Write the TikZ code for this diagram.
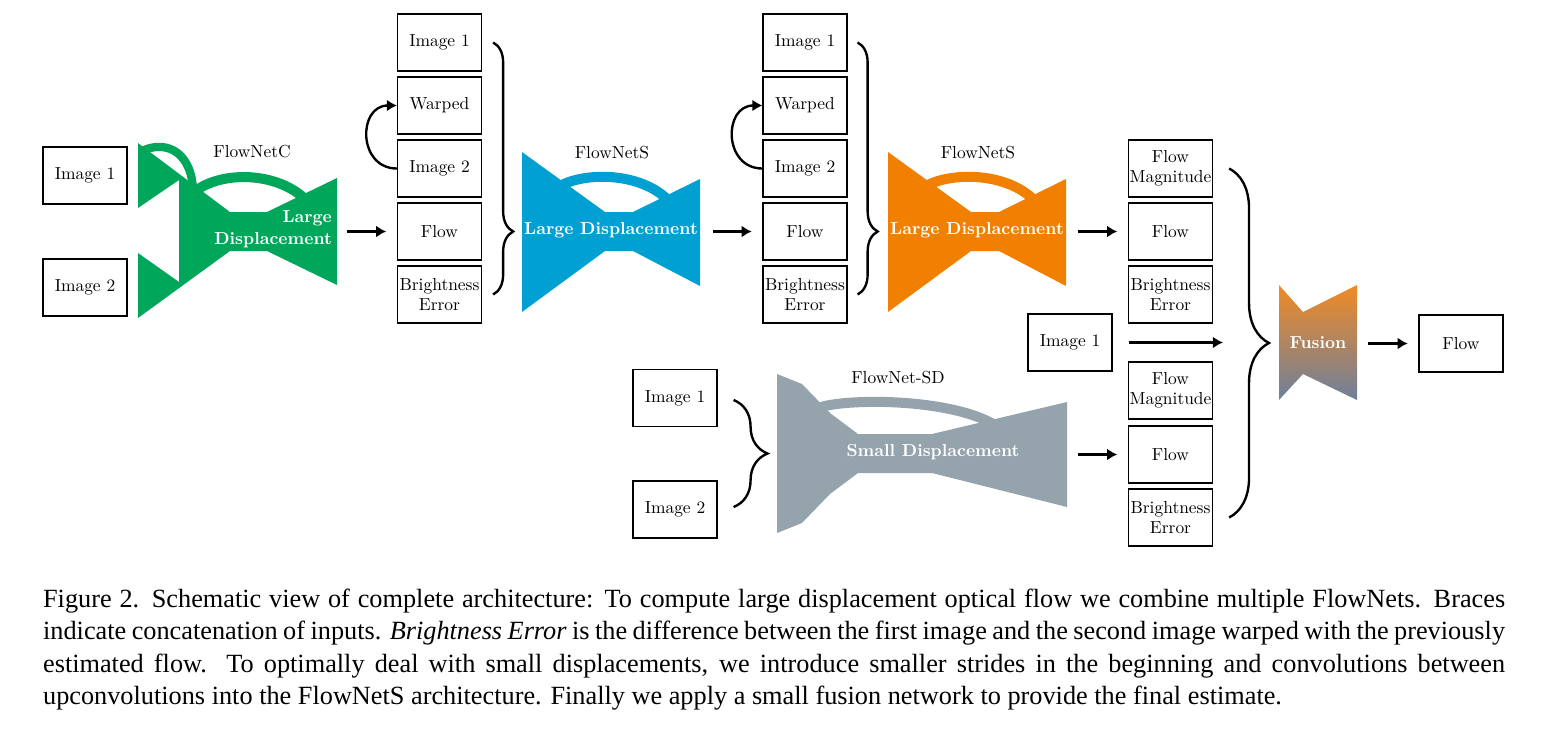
\documentclass[tikz,border=0pt]{standalone}
\usepackage{fontspec}
\usepackage{tikz}
\usetikzlibrary{arrows.meta,calc,decorations.pathreplacing}
\newfontfamily\capfont{Liberation Serif}
\newfontfamily\diafont{lmroman10}[Extension=.otf, UprightFont=*-regular, BoldFont=*-bold, ItalicFont=*-italic]
\definecolor{netC}{RGB}{0,166,90}
\definecolor{netS}{RGB}{0,161,210}
\definecolor{netO}{RGB}{241,128,0}
\definecolor{netSD}{RGB}{148,163,172}
\definecolor{fuseTop}{RGB}{240,138,38}
\definecolor{fuseBot}{RGB}{110,128,155}
\tikzset{every picture/.style={line width=0.75pt}}
\tikzset{
  box/.style={draw, line width=0.45pt, minimum width=28.4pt, minimum height=19.3pt, inner sep=0pt, align=center, font=\diafont\fontsize{5.9}{6.8}\selectfont},
  netlabel/.style={inner sep=0pt, font=\diafont\fontsize{5.9}{7}\selectfont},
  netname/.style={inner sep=0pt, text=white, align=center, font=\diafont\fontsize{5.9}{7.4}\selectfont\bfseries},
  tip/.style={line width=0.8pt, -{Latex[length=3.4pt,width=4pt]}},
  arr/.style={tip, shorten >=3.6pt},
  skip/.style={line width=3.4pt},
  bracket/.style={line width=0.8pt, decorate},
}

\begin{document}
\begin{tikzpicture}[x=0.3386pt,y=0.3386pt,yscale=-1,xscale=1]
\useasboundingbox (0,0) rectangle (1546,730);

%Shape: FlowNetC
\fill[netC] (138,143) -- (230,212) -- (267,212) -- (337,178) -- (337,285) -- (267,251) -- (230,251) -- (138,318) -- (138,253) -- (179,282) -- (179,180) -- (138,208) -- cycle ;
\draw[netC, line width=2.8pt] (140,152) .. controls (162,140) and (190,148) .. (193,188) ;
\draw[netC, skip] (194,192) .. controls (222,170) and (278,172) .. (306,200) ;
%Shape: FlowNetS (blue)
\fill[netS] (522,152) -- (605,212) -- (633,212) -- (700,179) -- (700,286) -- (633,251) -- (605,251) -- (522,312) -- cycle ;
\draw[netS, skip] (560,186) .. controls (585,172) and (640,172) .. (668,200) ;
%Shape: FlowNetS (orange)
\fill[netO] (888,152) -- (971,212) -- (999,212) -- (1066,179) -- (1066,286) -- (999,251) -- (971,251) -- (888,312) -- cycle ;
\draw[netO, skip] (926,186) .. controls (951,172) and (1006,172) .. (1034,200) ;
%Shape: FlowNet-SD
\fill[netSD] (777,374) -- (802,384) -- (830,413) -- (858,434) -- (932,434) -- (1067,402) -- (1067,507) -- (932,473) -- (858,473) -- (830,494) -- (802,523) -- (777,533) -- cycle ;
\draw[netSD, skip] (818,408) .. controls (845,398) and (950,398) .. (995,425) ;
%Shape: Fusion
\shade[top color=fuseTop, bottom color=fuseBot] (1279,285) -- (1303,312) -- (1357,285) -- (1357,400) -- (1303,374) -- (1279,400) -- cycle ;

% Network texts
\node[netlabel] (cname) at (252,152) {FlowNetC};
\node[netname, align=right, anchor=east] (ctext) at (333,229) {Large\\Displacement};
\node[netlabel] (sname) at (612,153) {FlowNetS};
\node[netname] (stext) at (611,230) {Large Displacement};
\node[netlabel] (oname) at (978,153) {FlowNetS};
\node[netname] (otext) at (977,230) {Large Displacement};
\node[netlabel] (sdname) at (898,378) {FlowNet-SD};
\node[netname] (sdtext) at (933,452) {Small Displacement};
\node[netname] (ftext) at (1318,343) {Fusion};

% Inputs
\node[box] (in1) at (85,175.5) {Image 1};
\node[box] (in2) at (85,287.5) {Image 2};
\node[box] (in3) at (675,398) {Image 1};
\node[box] (in4) at (675,509.5) {Image 2};
% Stack after FlowNetC
\node[box] (s1img1) at (439.5,42.5) {Image 1};
\node[box] (s1warp) at (439.5,105.5) {Warped};
\node[box] (s1img2) at (439.5,168.5) {Image 2};
\node[box] (s1flow) at (439.5,231.5) {Flow};
\node[box] (s1be) at (439.5,294.5) {Brightness\\Error};
% Stack after first FlowNetS
\node[box] (s2img1) at (805,42.5) {Image 1};
\node[box] (s2warp) at (805,105.5) {Warped};
\node[box] (s2img2) at (805,168.5) {Image 2};
\node[box] (s2flow) at (805,231.5) {Flow};
\node[box] (s2be) at (805,294.5) {Brightness\\Error};
% Outputs of second FlowNetS
\node[box] (s3mag) at (1170.5,168.5) {Flow\\Magnitude};
\node[box] (s3flow) at (1170.5,231.5) {Flow};
\node[box] (s3be) at (1170.5,294.5) {Brightness\\Error};
% Outputs of FlowNet-SD
\node[box] (s4mag) at (1170.5,390.5) {Flow\\Magnitude};
\node[box] (s4flow) at (1170.5,454.5) {Flow};
\node[box] (s4be) at (1170.5,517.5) {Brightness\\Error};
\node[box] (mimg1) at (1070,342.5) {Image 1};
\node[box] (out) at (1461,343.5) {Flow};

% Arrows
\coordinate (cout) at (347,231.5);
\coordinate (sout) at (713,231.5);
\coordinate (oout) at (1078,231.5);
\coordinate (sdout) at (1078,454.5);
\coordinate (fusein) at (1223,342.5);
\coordinate (fuseout) at (1368,343.5);
\draw[arr] (cout) -- (s1flow);
\draw[arr] (sout) -- (s2flow);
\draw[arr] (oout) -- (s3flow);
\draw[arr] (sdout) -- (s4flow);
\draw[tip, shorten <=5.4pt] (mimg1) -- (fusein);
\draw[arr] (fuseout) -- (out);
\draw[tip] (s1img2.west) to[out=180, in=180, looseness=1.6] (s1warp.west);
\draw[tip] (s2img2.west) to[out=180, in=180, looseness=1.6] (s2warp.west);

% Braces
\draw[bracket, decoration={brace, amplitude=6.8pt, aspect=0.75}] ($(s1img1.east)+(11,0)$) -- ($(s1be.east)+(11,0)$);
\draw[bracket, decoration={brace, amplitude=6.8pt, aspect=0.75}] ($(s2img1.east)+(10,0)$) -- ($(s2be.east)+(10,0)$);
\draw[bracket, decoration={brace, amplitude=11.5pt}] ($(in3.east)+(16,2)$) -- ($(in4.east)+(16,-2.5)$);
\draw[bracket, decoration={brace, amplitude=13.5pt}] ($(s3mag.east)+(16,0)$) -- ($(s4be.east)+(16,0)$);

% Caption
\node[anchor=base west, inner sep=0pt, text width=495pt, align=justify, font=\capfont\fontsize{8.9}{10.9}\selectfont] (caption) at (42,607.7) {Figure 2. Schematic view of complete architecture: To compute large displacement optical flow we combine multiple FlowNets. Braces\linebreak indicate concatenation of inputs. \textit{Brightness Error} is the difference between the first image and the second image warped with the previously\linebreak estimated flow. To optimally deal with small displacements, we introduce smaller strides in the beginning and convolutions between\linebreak upconvolutions into the FlowNetS architecture. Finally we apply a small fusion network to provide the final estimate.};
\end{tikzpicture}
\end{document}
